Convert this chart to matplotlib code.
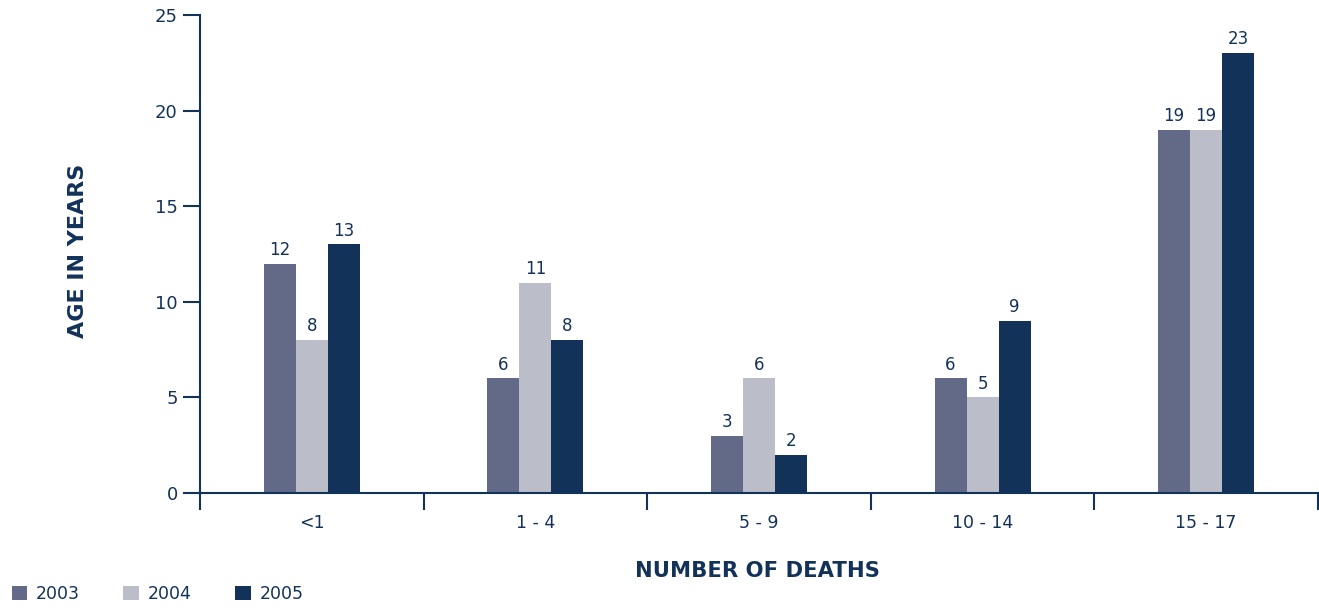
import matplotlib.pyplot as plt
import numpy as np

# deaths by age group and year
age_groups = ['<1', '1 - 4', '5 - 9', '10 - 14', '15 - 17']
years = ['2003', '2004', '2005']
deaths_2003 = [12, 6, 3, 6, 19]
deaths_2004 = [8, 11, 6, 5, 19]
deaths_2005 = [13, 8, 2, 9, 23]

navy = '#13325a'
colors = ['#636a88', '#bbbdc9', navy]

plt.rcParams['font.family'] = 'DejaVu Sans'

fig = plt.figure(figsize=(13.19, 6.11), dpi=100)
ax = fig.add_axes([0.1516, 0.1931, 0.8476, 0.7823])

x = np.arange(len(age_groups))
width = 0.143
series = [deaths_2003, deaths_2004, deaths_2005]
for i, (vals, year, c) in enumerate(zip(series, years, colors)):
    bars = ax.bar(x + (i - 1) * width, vals, width, color=c, label=year)
    for b, v in zip(bars, vals):
        ax.text(b.get_x() + b.get_width() / 2, v + 0.25, str(v),
                ha='center', va='bottom', fontsize=12, color=navy)

ax.set_xlim(-0.5, 4.5)
ax.set_ylim(0, 25)
ax.set_yticks(range(0, 26, 5))

# category labels centred, divider ticks between groups
ax.set_xticks(x)
ax.set_xticklabels(age_groups)
ax.tick_params(axis='x', which='major', length=0, pad=15, labelsize=12.5, labelcolor=navy)
ax.set_xticks(np.arange(-0.5, 5, 1), minor=True)
ax.tick_params(axis='x', which='minor', length=12, width=1.5, color=navy, direction='out')
ax.tick_params(axis='y', length=12, width=1.5, color=navy, labelsize=13,
               labelcolor=navy, pad=4)

for s in ['top', 'right']:
    ax.spines[s].set_visible(False)
for s in ['left', 'bottom']:
    ax.spines[s].set_color(navy)
    ax.spines[s].set_linewidth(1.5)

fig.text(0.0591, 0.59, 'AGE IN YEARS', rotation=90, ha='center', va='center',
         fontsize=16, fontweight='bold', color=navy)
fig.text(0.574, 0.065, 'NUMBER OF DEATHS', ha='center', va='center',
         fontsize=15.2, fontweight='bold', color=navy)

leg = fig.legend(loc='lower left', bbox_to_anchor=(-0.003, -0.012), ncol=3,
                 frameon=False, fontsize=12.5, handlelength=0.9, handleheight=0.9,
                 handletextpad=0.5, columnspacing=2.5)
for t in leg.get_texts():
    t.set_color(navy)

fig.savefig('out.png', dpi=100)
